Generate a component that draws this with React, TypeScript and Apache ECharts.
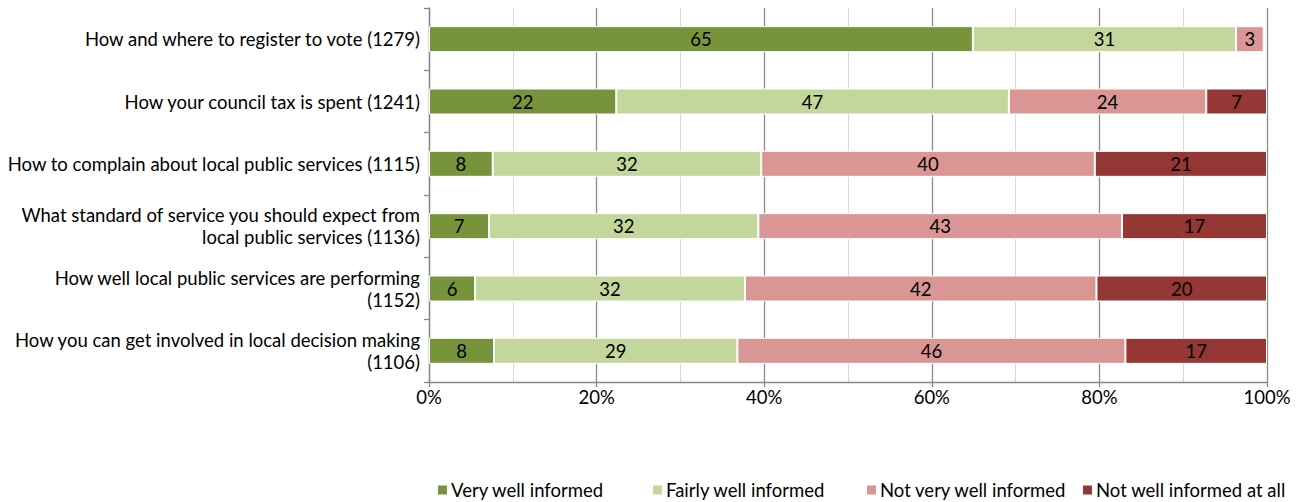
import React, { useEffect, useRef } from "react";
import * as echarts from "echarts";

const categories: string[] = [
  "How and where to register to vote (1279)",
  "How your council tax is spent (1241)",
  "How to complain about local public services (1115)",
  "What standard of service you should expect from\nlocal public services (1136)",
  "How well local public services are performing\n(1152)",
  "How you can get involved in local decision making\n(1106)",
];

const seriesNames: string[] = [
  "Very well informed",
  "Fairly well informed",
  "Not very well informed",
  "Not well informed at all",
];

const veryWell: (number | null)[] = [64.9, 22.35, 7.6, 7.17, 5.5, 7.76];
const fairlyWell: (number | null)[] = [31.4, 46.85, 32.05, 32.13, 32.2, 29.04];
const notVeryWell: (number | null)[] = [3.3, 23.55, 39.8, 43.4, 41.95, 46.3];
const notAtAll: (number | null)[] = [null, 7.25, 20.55, 17.3, 20.35, 16.9];

const xTicks: number[] = [0, 20, 40, 60, 80, 100];

const colors = ["#77933C", "#C3D69B", "#D99694", "#953735"];
const FONT = "Lato";
const FS = 18.5;

export default function App() {
  const ref = useRef<HTMLDivElement>(null);
  useEffect(() => {
    document.body.style.margin = "0";
    if (!ref.current) return;
    const chart = echarts.init(ref.current, undefined, { renderer: "svg" });
    const allData = [veryWell, fairlyWell, notVeryWell, notAtAll];
    const legendLefts = [436, 651, 865, 1081];
    chart.setOption({
      animation: false,
      textStyle: { fontFamily: FONT },
      grid: { left: 429, right: 34, top: 8, bottom: 120, containLabel: false },
      legend: seriesNames.map((n, i) => ({
        data: [n],
        left: legendLefts[i],
        top: 480,
        icon: "rect",
        itemWidth: 11,
        itemHeight: 11,
        itemGap: 0,
        padding: 0,
        selectedMode: false,
        textStyle: {
          fontFamily: FONT,
          fontSize: 18.5,
          lineHeight: 20,
          color: "#000",
          padding: [0, 0, 0, -2],
        },
      })),
      xAxis: {
        type: "value",
        min: 0,
        max: 100,
        interval: 20,
        axisLine: { show: true, lineStyle: { color: "#868686", width: 1.3 } },
        axisTick: { show: true, length: 5, lineStyle: { color: "#868686", width: 1.3 } },
        axisLabel: {
          formatter: (v: number) => (xTicks.includes(v) ? v + "%" : ""),
          color: "#000",
          fontSize: FS,
          fontFamily: FONT,
          margin: 5,
        },
        splitLine: { show: true, lineStyle: { color: "#8c8c8c", width: 1.3 } },
        minorTick: { show: false, splitNumber: 2 },
        minorSplitLine: { show: true, lineStyle: { color: "#d9d9d9", width: 1 } },
      },
      yAxis: {
        type: "category",
        inverse: true,
        data: categories,
        axisLine: { show: true, lineStyle: { color: "#868686", width: 1.3 } },
        axisTick: { show: true, length: 5, lineStyle: { color: "#868686", width: 1.3 } },
        axisLabel: {
          color: "#000",
          fontSize: FS,
          fontFamily: FONT,
          margin: 9,
          lineHeight: 22,
          align: "right",
        },
        splitLine: { show: false },
      },
      series: seriesNames.map((n, i) => ({
        name: n,
        type: "bar",
        stack: "total",
        barWidth: 26,
        data: allData[i],
        itemStyle: { color: colors[i], borderColor: "#fff", borderWidth: 1 },
        label: {
          show: true,
          position: "inside",
          color: "#000",
          fontSize: FS,
          fontFamily: FONT,
          formatter: (p: any) => (p.value == null ? "" : String(Math.round(p.value))),
        },
      })),
    });
    return () => chart.dispose();
  }, []);
  return <div ref={ref} style={{ width: 1301, height: 502 }} />;
}
